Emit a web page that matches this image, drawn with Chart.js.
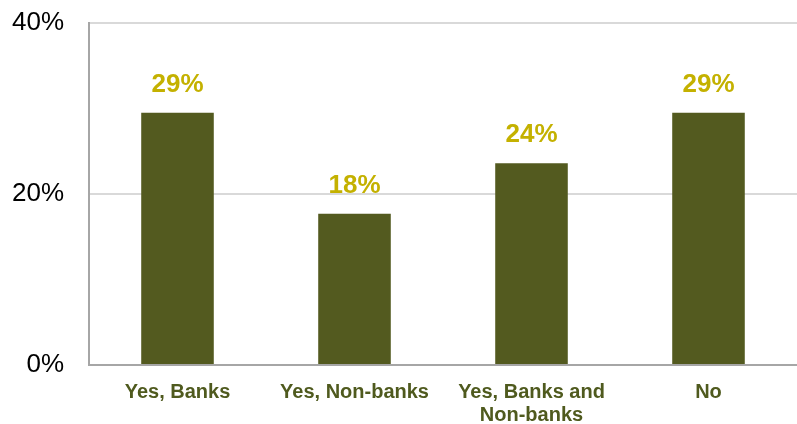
<!DOCTYPE html>
<html>
<head>
<meta charset="utf-8">
<script src="https://cdn.jsdelivr.net/npm/chart.js@4.4.0/dist/chart.umd.min.js"></script>
<style>
  html, body { margin: 0; padding: 0; background: #ffffff; overflow: hidden; }
  #wrap { width: 797px; height: 424px; position: relative; }
  canvas { display: block; }
</style>
</head>
<body>
<div id="wrap"><canvas id="barChart"></canvas></div>
<script>
const categories = [['Yes, Banks'], ['Yes, Non-banks'], ['Yes, Banks and', 'Non-banks'], ['No']];
const shares = [29.5, 17.7, 23.6, 29.5];
const shareLabels = ['29%', '18%', '24%', '29%'];
const yTicks = [0, 20, 40];

// draws the gold value labels above each bar
const valueLabels = {
    id: 'valueLabels',
    afterDatasetsDraw(chart) {
        const ctx = chart.ctx;
        const meta = chart.getDatasetMeta(0);
        ctx.save();
        ctx.font = 'bold 26px "Liberation Sans", Arial, sans-serif';
        ctx.fillStyle = '#c4b100';
        ctx.textAlign = 'center';
        ctx.textBaseline = 'middle';
        meta.data.forEach((bar, i) => {
            ctx.fillText(shareLabels[i], bar.x, bar.y - 28);
        });
        ctx.restore();
    }
};

const ctx = document.getElementById('barChart').getContext('2d');
new Chart(ctx, {
    type: 'bar',
    data: {
        labels: categories,
        datasets: [{
            data: shares,
            backgroundColor: '#535a1f',
            borderWidth: 0,
            barPercentage: 0.41,
            categoryPercentage: 1.0
        }]
    },
    options: {
        responsive: true,
        maintainAspectRatio: false,
        animation: false,
        layout: { padding: { top: 23, right: 0, bottom: 0, left: 0 } },
        plugins: {
            legend: { display: false },
            tooltip: { enabled: false }
        },
        scales: {
            x: {
                grid: { display: false, drawTicks: false },
                border: { color: '#a6a6a6', width: 2 },
                ticks: {
                    color: '#4f5a1e',
                    font: { family: '"Liberation Sans", Arial, sans-serif', size: 20, weight: 'bold', lineHeight: 1.15 },
                    padding: 16,
                    maxRotation: 0,
                    autoSkip: false
                },
                afterFit(scale) {
                    scale.height = 59;
                    scale.paddingLeft = 0;
                    scale.paddingRight = 0;
                }
            },
            y: {
                min: 0,
                max: 40,
                afterBuildTicks(scale) {
                    scale.ticks = yTicks.map(v => ({ value: v }));
                },
                grid: {
                    color: ctx => ctx.tick && ctx.tick.value === 0 ? 'rgba(0,0,0,0)' : '#d9d9d9',
                    lineWidth: 2,
                    drawTicks: false
                },
                border: { color: '#a6a6a6', width: 2 },
                ticks: {
                    color: '#000000',
                    font: { family: '"Liberation Sans", Arial, sans-serif', size: 26 },
                    padding: 25,
                    callback: v => v + '%'
                },
                afterFit(scale) {
                    scale.width = 89;
                    scale.paddingTop = 0;
                    scale.paddingBottom = 0;
                }
            }
        }
    },
    plugins: [valueLabels]
});
</script>
</body>
</html>
